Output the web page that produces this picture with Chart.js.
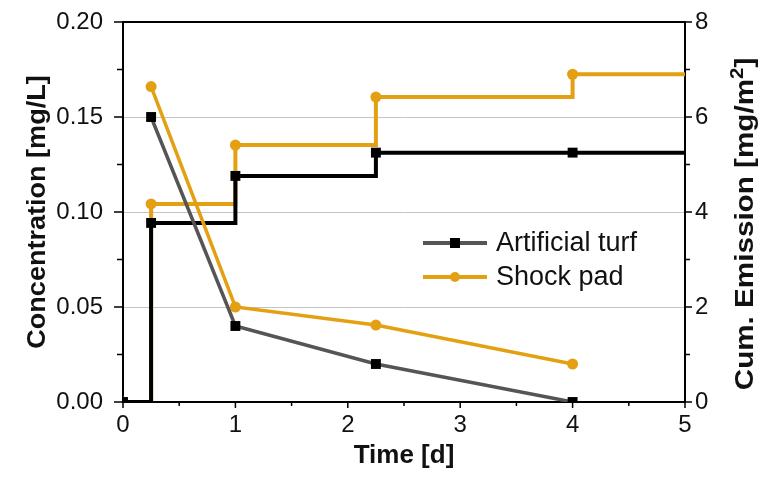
<!DOCTYPE html>
<html>
<head>
<meta charset="utf-8">
<script src="https://cdn.jsdelivr.net/npm/chart.js@4.4.1/dist/chart.umd.min.js"></script>
<style>
  body { margin: 0; background: #fff; }
  canvas { display: block; }
</style>
</head>
<body>
<canvas id="emissionChart" width="761" height="489"></canvas>
<script>
// sampling days and measured concentrations (left axis)
const sampleDays = [0.25, 1, 2.25, 4];
const concTurf = [0.150, 0.040, 0.020, 0.000];
const concShock = [0.166, 0.050, 0.0405, 0.020];

// cumulative emission (right axis), held between samples
const cumDays = [0, 0.25, 1, 2.25, 4, 5];
const cumTurf = [0, 3.77, 4.76, 5.25, 5.25, 5.25];
const cumShock = [0, 4.17, 5.41, 6.42, 6.90, 6.90];

const seriesNames = ['Artificial turf', 'Shock pad'];
const timeTicks = [0, 1, 2, 3, 4, 5];
const concTicks = [0, 0.05, 0.10, 0.15, 0.20];
const cumTicks = [0, 2, 4, 6, 8];

const GOLD = '#e3a012';
const GRAY = '#555555';
const FONT = '"Liberation Sans", Arial, sans-serif';

const toXY = (xs, ys) => xs.map((x, i) => ({ x: x, y: ys[i] }));
const noLastMarker = (r) => cumDays.map((d, i) => i === cumDays.length - 1 ? 0 : r);

// fixed axis sizes so the plot box sits where it does in the figure
const fitTo = (w, h) => s => {
  if (w !== null) s.width = w;
  if (h !== null) s.height = h;
  s.paddingTop = 0;
  s.paddingBottom = 0;
  s.paddingLeft = 0;
  s.paddingRight = 0;
};

// tick marks, top frame line and axis titles
const frame = {
  id: 'frame',
  afterDraw(chart) {
    const { ctx, chartArea: a, scales } = chart;
    ctx.save();
    ctx.strokeStyle = '#000';
    ctx.lineWidth = 2;
    ctx.beginPath();
    ctx.moveTo(a.left - 1, a.top);
    ctx.lineTo(a.right + 1, a.top);
    ctx.stroke();

    ctx.lineWidth = 1.5;
    ctx.beginPath();
    for (let i = 0; i <= 10; i++) {
      const px = scales.x.getPixelForValue(i * 0.5);
      const len = i % 2 === 0 ? 6 : 4;
      ctx.moveTo(px, a.bottom);
      ctx.lineTo(px, a.bottom + len);
    }
    for (let i = 0; i <= 8; i++) {
      const py = scales.y.getPixelForValue(i * 0.025);
      const len = i % 2 === 0 ? 9 : 6;
      ctx.moveTo(a.left - len, py);
      ctx.lineTo(a.left, py);
    }
    for (let i = 0; i <= 8; i++) {
      const py = scales.y2.getPixelForValue(i);
      const len = i % 2 === 0 ? 7 : 5;
      ctx.moveTo(a.right, py);
      ctx.lineTo(a.right + len, py);
    }
    ctx.stroke();

    ctx.fillStyle = '#111';
    ctx.font = 'bold 26px ' + FONT;
    ctx.textAlign = 'center';
    ctx.textBaseline = 'alphabetic';
    ctx.fillText('Time [d]', (a.left + a.right) / 2, 463);

    const midY = (a.top + a.bottom) / 2;
    ctx.save();
    ctx.translate(45, midY);
    ctx.rotate(-Math.PI / 2);
    ctx.scale(1.04, 1);
    ctx.fillText('Concentration [mg/L]', 0, 0);
    ctx.restore();

    // right title reads bottom to top, with a superscript 2
    const partA = 'Cum. Emission [mg/m';
    const partB = ']';
    ctx.font = 'bold 26px ' + FONT;
    const wA = ctx.measureText(partA).width;
    const wB = ctx.measureText(partB).width;
    ctx.font = 'bold 18px ' + FONT;
    const wS = ctx.measureText('2').width;
    const total = wA + wS + wB;
    ctx.save();
    ctx.translate(753, midY + 12);
    ctx.rotate(-Math.PI / 2);
    ctx.scale(1.14, 1);
    ctx.textAlign = 'left';
    let x = -total / 2;
    ctx.font = 'bold 26px ' + FONT;
    ctx.fillText(partA, x, 0);
    x += wA;
    ctx.font = 'bold 18px ' + FONT;
    ctx.fillText('2', x, -10);
    x += wS;
    ctx.font = 'bold 26px ' + FONT;
    ctx.fillText(partB, x, 0);
    ctx.restore();

    ctx.restore();
  }
};

// legend: line sample with marker, as in the original figure
const lineLegend = {
  id: 'lineLegend',
  afterDraw(chart) {
    const ctx = chart.ctx;
    const x0 = 423, x1 = 487, rows = [243, 277];
    const styles = [
      { line: GRAY, fill: '#000', shape: 'rect' },
      { line: GOLD, fill: GOLD, shape: 'circle' }
    ];
    ctx.save();
    rows.forEach((y, i) => {
      const s = styles[i];
      ctx.strokeStyle = s.line;
      ctx.lineWidth = 4;
      ctx.beginPath();
      ctx.moveTo(x0, y);
      ctx.lineTo(x1, y);
      ctx.stroke();
      ctx.fillStyle = s.fill;
      const cx = (x0 + x1) / 2;
      if (s.shape === 'rect') {
        ctx.fillRect(cx - 5, y - 5, 10, 10);
      } else {
        ctx.beginPath();
        ctx.arc(cx, y, 5, 0, Math.PI * 2);
        ctx.fill();
      }
      ctx.fillStyle = '#111';
      ctx.font = '27px ' + FONT;
      ctx.textAlign = 'left';
      ctx.textBaseline = 'middle';
      ctx.fillText(seriesNames[i], 496, y + 1);
    });
    ctx.restore();
  }
};

const ctx = document.getElementById('emissionChart').getContext('2d');
const emissionChart = new Chart(ctx, {
  type: 'line',
  data: {
    datasets: [
      {
        label: seriesNames[0],
        data: toXY(sampleDays, concTurf),
        yAxisID: 'y',
        borderColor: GRAY,
        borderWidth: 3.5,
        pointStyle: 'rect',
        pointRadius: 7,
        pointBackgroundColor: '#000',
        pointBorderWidth: 0,
        clip: 0
      },
      {
        label: seriesNames[1],
        data: toXY(sampleDays, concShock),
        yAxisID: 'y',
        borderColor: GOLD,
        borderWidth: 3.5,
        pointStyle: 'circle',
        pointRadius: 5.5,
        pointBackgroundColor: GOLD,
        pointBorderWidth: 0,
        clip: 0
      },
      {
        label: seriesNames[0] + ' (cum.)',
        data: toXY(cumDays, cumTurf),
        yAxisID: 'y2',
        stepped: 'before',
        borderColor: '#000',
        borderWidth: 4,
        pointStyle: 'rect',
        pointRadius: noLastMarker(7),
        pointBackgroundColor: '#000',
        pointBorderWidth: 0,
        clip: 0
      },
      {
        label: seriesNames[1] + ' (cum.)',
        data: toXY(cumDays, cumShock),
        yAxisID: 'y2',
        stepped: 'before',
        borderColor: GOLD,
        borderWidth: 4,
        pointStyle: 'circle',
        pointRadius: noLastMarker(5.5),
        pointBackgroundColor: GOLD,
        pointBorderWidth: 0,
        clip: 0
      }
    ]
  },
  options: {
    responsive: false,
    animation: false,
    events: [],
    layout: { padding: { top: 22, left: 0, right: 0, bottom: 0 } },
    plugins: {
      legend: { display: false },
      tooltip: { enabled: false }
    },
    scales: {
      x: {
        type: 'linear',
        min: 0,
        max: 5,
        afterBuildTicks: s => { s.ticks = timeTicks.map(v => ({ value: v })); },
        afterFit: fitTo(null, 87),
        grid: { display: false, drawTicks: false },
        border: { display: true, color: '#000', width: 2 },
        ticks: {
          padding: 9,
          color: '#111',
          font: { family: FONT, size: 24 },
          maxRotation: 0
        }
      },
      y: {
        position: 'left',
        min: 0,
        max: 0.2,
        afterBuildTicks: s => { s.ticks = concTicks.map(v => ({ value: v })); },
        afterFit: fitTo(123, null),
        grid: { color: '#c4c4c4', lineWidth: 1, drawTicks: false },
        border: { display: true, color: '#000', width: 2 },
        ticks: {
          padding: 20,
          color: '#111',
          font: { family: FONT, size: 24 },
          callback: v => v.toFixed(2)
        }
      },
      y2: {
        position: 'right',
        min: 0,
        max: 8,
        afterBuildTicks: s => { s.ticks = cumTicks.map(v => ({ value: v })); },
        afterFit: fitTo(76, null),
        grid: { display: false, drawTicks: false },
        border: { display: true, color: '#000', width: 2 },
        ticks: {
          padding: 10,
          color: '#111',
          font: { family: FONT, size: 24 },
          callback: v => String(v)
        }
      }
    }
  },
  plugins: [frame, lineLegend]
});
</script>
</body>
</html>
